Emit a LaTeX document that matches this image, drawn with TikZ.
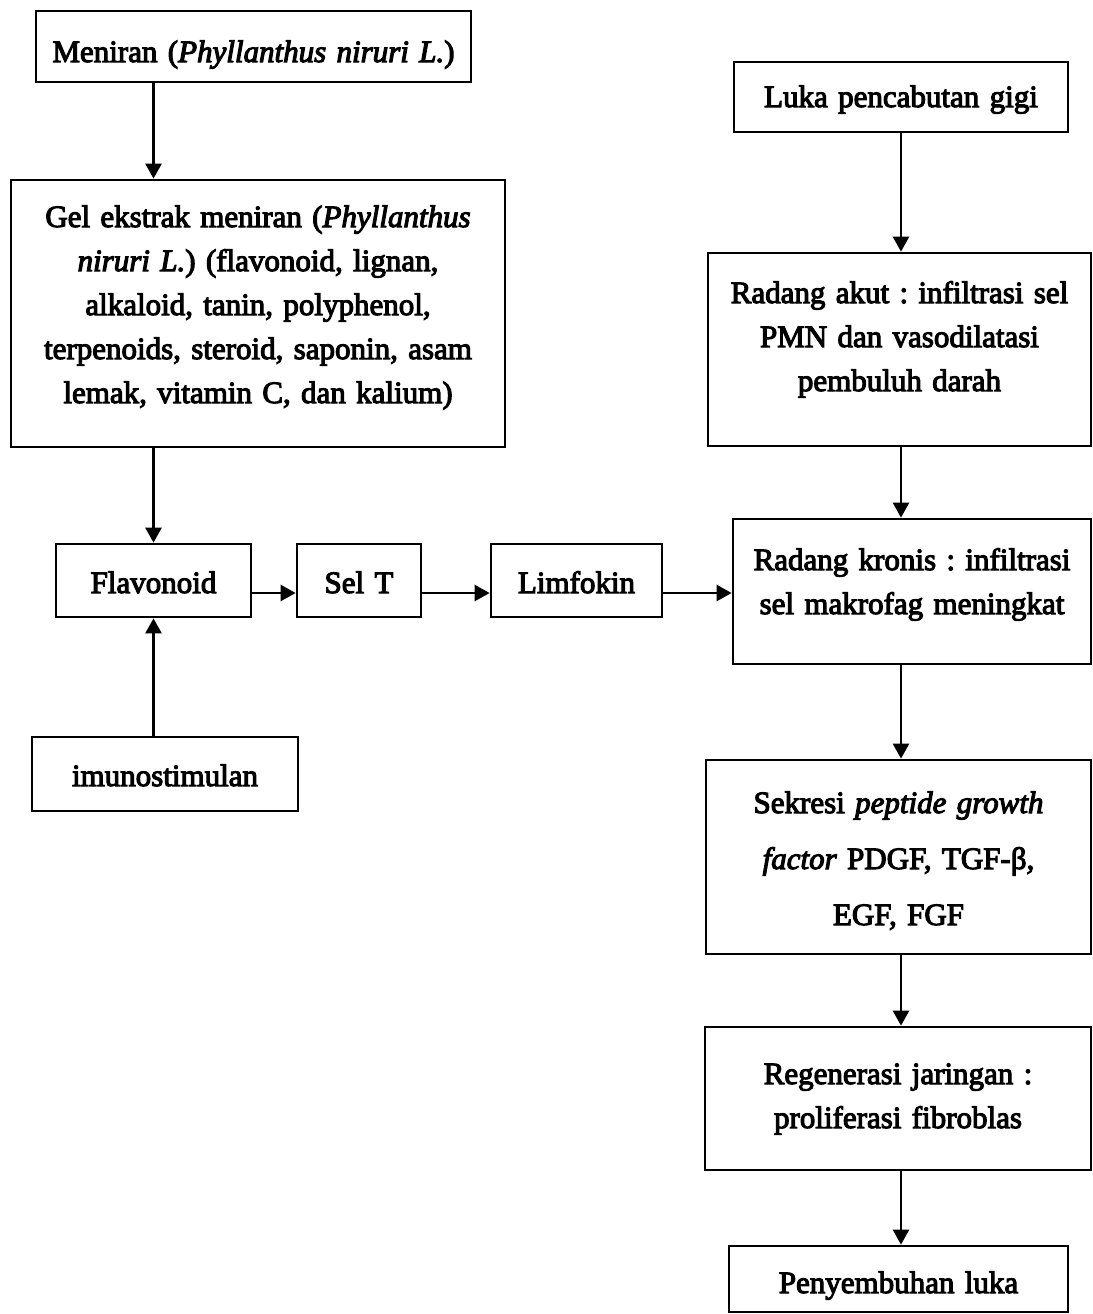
\documentclass[tikz,border=0pt]{standalone}
\usepackage{fontspec}
\setmainfont{Liberation Serif}[UprightFeatures={FakeBold=3.5},ItalicFeatures={FakeBold=3.5}]
\usepackage{tikz}
\usetikzlibrary{arrows.meta}
\frenchspacing
\tikzset{
  flowbox/.style={draw, line width=1.1pt, align=center, inner sep=0pt, anchor=base, font=\fontsize{12.4}{17.6}\selectfont},
  widebox/.style={flowbox, font=\fontsize{12.4}{22.4}\selectfont},
  flowarrow/.style={-{Triangle[length=6pt,width=6.4pt]}, line width=1pt}
}

\begin{document}
\begin{tikzpicture}[x=0.4pt, y=-0.4pt]
\useasboundingbox (0,0) rectangle (1093,1314);
\node[flowbox, text width=174pt, text height=20.4pt, text depth=8pt] (meniran) at (253.5,62) {Meniran (\textit{Phyllanthus niruri L.})};
\node[flowbox, text width=197.6pt, text height=18.8pt, text depth=88pt] (gel) at (258,227) {Gel ekstrak meniran (\textit{Phyllanthus}\\\textit{niruri L.}) (flavonoid, lignan,\\alkaloid, tanin, polyphenol,\\terpenoids, steroid, saponin, asam\\lemak, vitamin C, dan kalium)};
\node[flowbox, text width=78pt, text height=19.6pt, text depth=9.6pt] (flav) at (153.5,593) {Flavonoid};
\node[flowbox, text width=49.6pt, text height=19.6pt, text depth=9.6pt] (selt) at (359,593) {Sel T};
\node[flowbox, text width=68.4pt, text height=19.6pt, text depth=9.6pt] (limfo) at (576.5,593) {Limfokin};
\node[flowbox, text width=106.4pt, text height=19.6pt, text depth=10pt] (imuno) at (165,786) {imunostimulan};
\node[flowbox, text width=133.6pt, text height=18pt, text depth=10pt] (luka) at (901,107) {Luka pencabutan gigi};
\node[flowbox, text width=153.2pt, text height=20pt, text depth=57.2pt] (akut) at (899.5,303) {Radang akut : infiltrasi sel\\PMN dan vasodilatasi\\pembuluh darah};
\node[flowbox, text width=143.2pt, text height=20.4pt, text depth=37.6pt] (kronis) at (912,570) {Radang kronis : infiltrasi\\sel makrofag meningkat};
\node[widebox, text width=154pt, text height=21.2pt, text depth=56.4pt] (sekresi) at (898.5,813) {Sekresi \textit{peptide growth}\\\textit{factor} PDGF, TGF-β,\\EGF, FGF};
\node[flowbox, text width=154.4pt, text height=22.8pt, text depth=34.4pt] (regen) at (898,1084) {Regenerasi jaringan :\\proliferasi fibroblas};
\node[flowbox, text width=135.6pt, text height=18.8pt, text depth=7.6pt] (peny) at (898.5,1293) {Penyembuhan luka};
\draw[flowarrow] (meniran.south -| flav.north) -- (gel.north -| flav.north);
\draw[flowarrow] (gel.south -| flav.north) -- (flav.north);
\draw[flowarrow] (imuno.north -| flav.south) -- (flav.south);
\foreach \a/\b in {flav/selt,selt/limfo} {
  \draw[flowarrow] (\a.base east) -- (\b.base west);
}
\draw[flowarrow] (limfo.base east) -- (limfo.base east -| kronis.west);
\foreach \a/\b in {luka/akut,akut/kronis,kronis/sekresi,sekresi/regen,regen/peny} {
  \draw[flowarrow] (\a.south -| luka.south) -- (\b.north -| luka.south);
}
\end{tikzpicture}
\end{document}
